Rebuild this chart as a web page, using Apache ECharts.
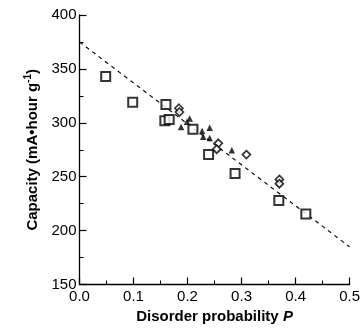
<!DOCTYPE html>
<html>
<head>
<meta charset="utf-8">
<script src="https://cdn.jsdelivr.net/npm/echarts@6/dist/echarts.min.js"></script>
<style>
  html, body { margin: 0; padding: 0; background: #fff; }
  #chart { width: 363px; height: 330px; }
</style>
</head>
<body>
<div id="chart"></div>
<script>
// values: [disorder probability, capacity]
const squarePoints = [
    [0.0485, 343], [0.0985, 319], [0.160, 317], [0.158, 302], [0.166, 303],
    [0.210, 294], [0.239, 270.5], [0.288, 253], [0.369, 228], [0.419, 215.5]
];
const diamondPoints = [
    [0.184, 313.5], [0.185, 310], [0.257, 281], [0.254, 275.5],
    [0.309, 270.5], [0.370, 247.5], [0.370, 243.5]
];
const trianglePoints = [
    [0.188, 296], [0.199, 301], [0.204, 304], [0.227, 292.5],
    [0.241, 295.5], [0.229, 287], [0.241, 286], [0.282, 274.5]
];
const fitLine = [[0, 375], [0.5, 185]];

const chart = echarts.init(document.getElementById('chart'));

const font = 'Liberation Sans, Arial, Helvetica, sans-serif';
const ink = '#000';

const axisCommon = {
    axisLine: { show: true, lineStyle: { color: ink, width: 1.3 } },
    axisTick: { show: true, inside: true, length: 7, lineStyle: { color: ink, width: 1.2 } },
    minorTick: { show: true, splitNumber: 2, length: 4, lineStyle: { color: ink, width: 1 } },
    splitLine: { show: false },
    nameLocation: 'middle',
};

chart.setOption({
    animation: false,
    grid: { left: 79.5, right: 10.5, top: 15, bottom: 45.5 },
    xAxis: {
        ...axisCommon,
        type: 'value',
        min: 0,
        max: 0.5,
        interval: 0.1,
        axisLabel: {
            color: ink, fontFamily: font, fontSize: 15, margin: 5,
            formatter: v => v.toFixed(1)
        },
        name: '{b|Disorder probability }{i|P}',
        nameGap: 24,
        nameTextStyle: {
            rich: {
                b: { fontFamily: font, fontSize: 15, fontWeight: 'bold', color: ink },
                i: { fontFamily: font, fontSize: 15, fontWeight: 'bold', fontStyle: 'italic', color: ink }
            }
        }
    },
    yAxis: {
        ...axisCommon,
        type: 'value',
        min: 150,
        max: 400,
        interval: 50,
        axisLabel: { color: ink, fontFamily: font, fontSize: 15, margin: 3 },
        name: '{b|Capacity (mA•hour g}{s|-1}{b|)}',
        nameGap: 38,
        nameTextStyle: {
            rich: {
                b: { fontFamily: font, fontSize: 15, fontWeight: 'bold', color: ink },
                s: { fontFamily: font, fontSize: 10, fontWeight: 'bold', color: ink, verticalAlign: 'top', padding: [0, 0, 8, 0] }
            }
        }
    },
    series: [
        {
            name: 'fit',
            type: 'line',
            data: fitLine,
            symbol: 'none',
            silent: true,
            lineStyle: { color: ink, width: 1.1, type: [4, 4] },
            z: 1
        },
        {
            name: 'squares',
            type: 'scatter',
            data: squarePoints,
            symbol: 'rect',
            symbolSize: 9,
            itemStyle: { color: '#fff', borderColor: ink, borderWidth: 2 },
            z: 3
        },
        {
            name: 'diamonds',
            type: 'scatter',
            data: diamondPoints,
            symbol: 'diamond',
            symbolSize: [8, 8],
            itemStyle: { color: '#fff', borderColor: ink, borderWidth: 1.7 },
            z: 3
        },
        {
            name: 'triangles',
            type: 'scatter',
            data: trianglePoints,
            symbol: 'triangle',
            symbolSize: 6.5,
            itemStyle: { color: ink },
            z: 4
        }
    ]
});
</script>
</body>
</html>
